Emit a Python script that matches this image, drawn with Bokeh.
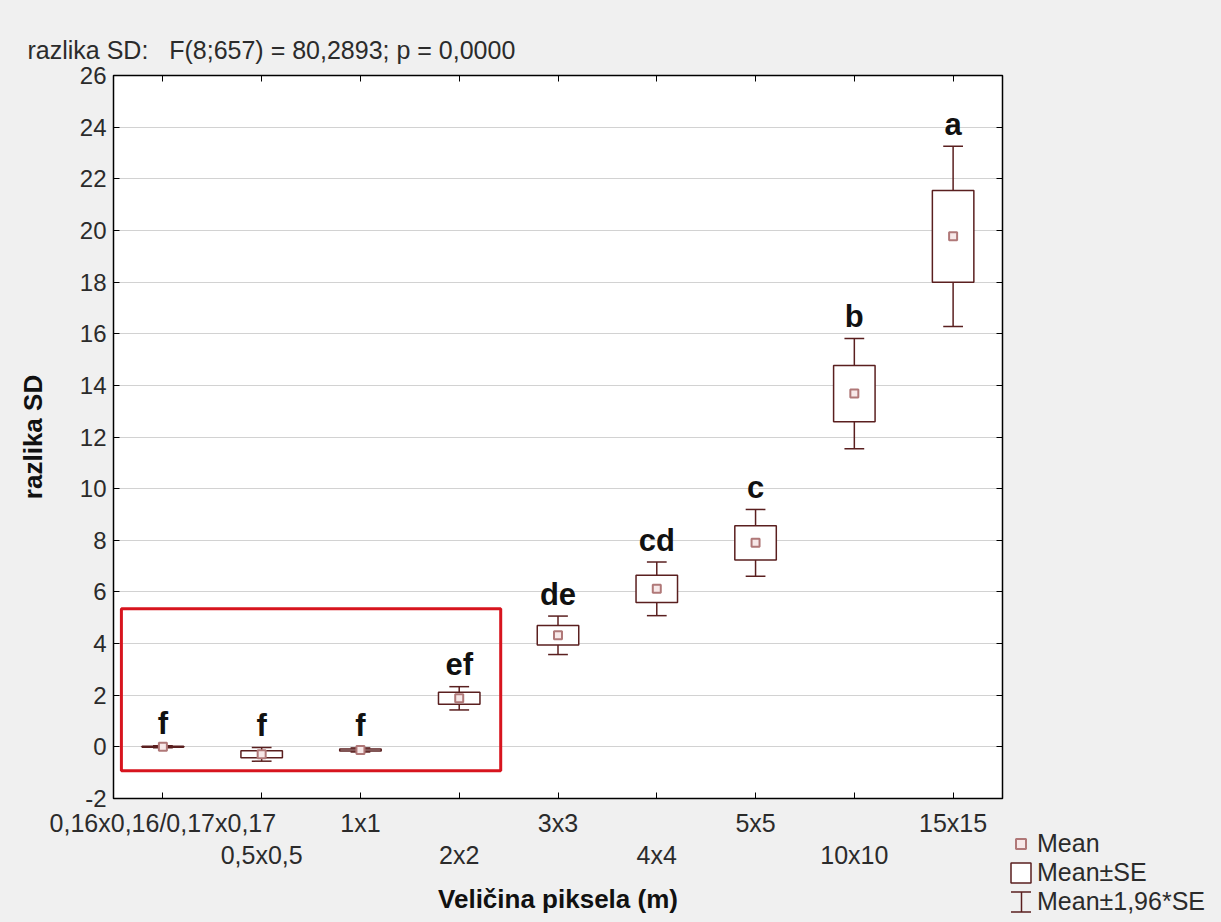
from bokeh.plotting import figure
from bokeh.layouts import row, column
from bokeh.models import (ColumnDataSource, FixedTicker, LinearAxis, Legend,
                          LegendItem, BoxAnnotation, Spacer)
from bokeh.core.properties import value
from bokeh.embed import file_html
from bokeh.resources import INLINE

# ---------------- data ----------------
categories = ["0,16x0,16/0,17x0,17", "0,5x0,5", "1x1", "2x2", "3x3",
              "4x4", "5x5", "10x10", "15x15"]
means = [0.00, -0.29, -0.12, 1.88, 4.32, 6.12, 7.90, 13.68, 19.77]
se = [0.02, 0.135, 0.04, 0.23, 0.38, 0.53, 0.66, 1.09, 1.78]
letters = ["f", "f", "f", "ef", "de", "cd", "c", "b", "a"]
y_ticks = list(range(-2, 27, 2))
title_text = "razlika SD:\u00a0\u00a0 F(8;657) = 80,2893; p = 0,0000"
x_label = "Veličina piksela (m)"
y_label = "razlika SD"
legend_labels = ["Mean", "Mean±SE", "Mean±1,96*SE"]
# highlighted groups (first..last index) and vertical extent of the red frame
highlight_first, highlight_last = 0, 3
highlight_bottom, highlight_top = -0.93, 5.35

# ---------------- styling ----------------
FONT = "Liberation Sans"
BOX_COL = "#5a1f1f"
MEAN_LINE = "#b07878"
MEAN_FILL = "#f7e8e8"
BG = "#f0f0f0"
box_half = 0.21
cap_half = 0.1
pad = 0.42

xs = list(range(len(categories)))
z = 1.96
src = ColumnDataSource(dict(
    x=xs,
    mean=means,
    se_lo=[m - s for m, s in zip(means, se)],
    se_hi=[m + s for m, s in zip(means, se)],
    ci_lo=[m - z * s for m, s in zip(means, se)],
    ci_hi=[m + z * s for m, s in zip(means, se)],
    box_l=[x - box_half for x in xs],
    box_r=[x + box_half for x in xs],
    cap_l=[x - cap_half for x in xs],
    cap_r=[x + cap_half for x in xs],
    letter=letters,
))

p = figure(frame_width=889, frame_height=723,
           x_range=(-0.5, len(categories) - 0.5), y_range=(-2, 26),
           output_backend="svg", toolbar_location=None,
           min_border_left=113, min_border_right=6,
           min_border_top=75, min_border_bottom=124,
           background_fill_color="white", border_fill_color=BG,
           outline_line_color="black", outline_line_width=1.5)

# title
p.title.text = title_text
p.title.align = "left"
p.title.offset = -86
p.title.text_font = FONT
p.title.text_font_size = "25px"
p.title.text_font_style = "normal"
p.title.text_color = "#2b2b2b"
p.title.standoff = 24

# grid
p.xgrid.visible = False
p.ygrid.ticker = FixedTicker(ticks=y_ticks)
p.ygrid.grid_line_color = "#d2d2d2"

# left axis
ya = p.yaxis[0]
ya.ticker = FixedTicker(ticks=y_ticks)
ya.major_label_overrides = {t: str(t) for t in y_ticks}
ya.major_tick_in = 6
ya.major_tick_out = 0
ya.minor_tick_line_color = None
ya.major_label_standoff = 7
ya.major_label_text_font = FONT
ya.major_label_text_font_size = "24px"
ya.major_label_text_color = "#2b2b2b"
ya.axis_label = y_label
ya.axis_label_text_font = FONT
ya.axis_label_text_font_size = "26px"
ya.axis_label_text_font_style = "bold"
ya.axis_label_text_color = "#111111"
ya.axis_label_standoff = 29
ya.axis_line_color = "black"

# bottom axis (row 1 labels)
xa = p.xaxis[0]
xa.ticker = FixedTicker(ticks=xs)
xa.major_label_overrides = {i: (c if i % 2 == 0 else "") for i, c in enumerate(categories)}
xa.major_tick_in = 6
xa.major_tick_out = 0
xa.minor_tick_line_color = None
xa.major_label_standoff = 10
xa.major_label_text_font = FONT
xa.major_label_text_font_size = "25px"
xa.major_label_text_color = "#2b2b2b"
xa.axis_line_color = "black"

# second bottom axis (row 2 labels + axis title)
xa2 = LinearAxis(ticker=FixedTicker(ticks=[i for i in xs if i % 2 == 1]),
                 major_label_overrides={i: c for i, c in enumerate(categories) if i % 2 == 1},
                 major_tick_in=0, major_tick_out=0, minor_tick_line_color=None,
                 axis_line_color=None, major_label_standoff=1,
                 major_label_text_font=FONT, major_label_text_font_size="25px",
                 major_label_text_color="#2b2b2b",
                 axis_label=x_label, axis_label_text_font=FONT,
                 axis_label_text_font_size="26px", axis_label_text_font_style="bold",
                 axis_label_text_color="#111111", axis_label_standoff=12)
p.add_layout(xa2, "below")

# top & right axes: inward ticks only
top = LinearAxis(ticker=FixedTicker(ticks=xs), major_tick_in=6, major_tick_out=0,
                 minor_tick_line_color=None, major_label_overrides={i: "" for i in xs},
                 major_label_standoff=0,
                 major_label_text_font_size="1px", axis_line_color="black")
p.add_layout(top, "above")
right = LinearAxis(ticker=FixedTicker(ticks=y_ticks), major_tick_in=6, major_tick_out=0,
                   minor_tick_line_color=None, major_label_overrides={t: "" for t in y_ticks},
                   major_label_standoff=0,
                   major_label_text_font_size="1px", axis_line_color="black")
p.add_layout(right, "right")

# whisker stems and caps
p.segment(x0="x", y0="ci_lo", x1="x", y1="ci_hi", source=src,
          line_color=BOX_COL, line_width=1.5)
p.segment(x0="cap_l", y0="ci_hi", x1="cap_r", y1="ci_hi", source=src,
          line_color=BOX_COL, line_width=1.5)
p.segment(x0="cap_l", y0="ci_lo", x1="cap_r", y1="ci_lo", source=src,
          line_color=BOX_COL, line_width=1.5)
# SE boxes
p.quad(left="box_l", right="box_r", bottom="se_lo", top="se_hi", source=src,
       fill_color="white", line_color=BOX_COL, line_width=1.5)
# means
p.scatter(x="x", y="mean", source=src, marker="square", size=8,
          fill_color=MEAN_FILL, line_color=MEAN_LINE, line_width=2)
# group letters
p.text(x="x", y="ci_hi", text="letter", source=src, text_align="center",
       text_baseline="alphabetic", y_offset=-22, text_font=value(FONT),
       text_font_size="31px", text_font_style="bold", text_color="#111111")

# red highlight frame
p.add_layout(BoxAnnotation(left=highlight_first - pad, right=highlight_last + pad,
                           bottom=highlight_bottom, top=highlight_top,
                           fill_alpha=0, line_color="#d7141e", line_alpha=1.0,
                           line_width=3))

# ---------------- legend (small figure placed under a spacer, right of the chart) ----------------
# Its data range lies away from the data, so the renderers only feed the legend swatches.
lf = figure(width=213, height=90, x_range=(100, 101), y_range=(100, 101), title=None,
            output_backend="svg", toolbar_location=None,
            x_axis_location=None, y_axis_location=None, min_border=0,
            background_fill_color=BG, border_fill_color=BG, outline_line_color=None)
lf.grid.visible = False
mean_leg = lf.scatter(x="x", y="mean", source=src, marker="square", size=8,
                      fill_color=MEAN_FILL, line_color=MEAN_LINE, line_width=2)
box_leg = lf.quad(left="box_l", right="box_r", bottom="se_lo", top="se_hi", source=src,
                  fill_color="white", line_color=BOX_COL, line_width=1.5)
# I-beam swatch: dashed outline keeps only top and bottom edges (caps),
# a vertical hatch line gives the stem
ibeam_leg = lf.quad(left="box_l", right="box_r", bottom="ci_lo", top="ci_hi", source=src,
                    fill_alpha=0, line_color=BOX_COL, line_width=1.5, line_dash="20 20",
                    hatch_pattern="vertical_line", hatch_scale=25, hatch_weight=1.5,
                    hatch_color=BOX_COL)

legend = Legend(items=[LegendItem(label=legend_labels[0], renderers=[mean_leg]),
                       LegendItem(label=legend_labels[1], renderers=[box_leg]),
                       LegendItem(label=legend_labels[2], renderers=[ibeam_leg])],
                location="top_left", glyph_width=25, glyph_height=25, label_height=25,
                spacing=0, padding=0, margin=0, label_standoff=4,
                label_text_font=FONT, label_text_font_size="25px",
                label_text_color="#2b2b2b", border_line_alpha=0,
                background_fill_alpha=0)
lf.add_layout(legend)

side = column(Spacer(width=213, height=829), lf, spacing=0,
              styles={"background-color": BG})
layout = row(p, side, spacing=0, styles={"background-color": BG})
open("out.html", "w").write(file_html(layout, INLINE))
